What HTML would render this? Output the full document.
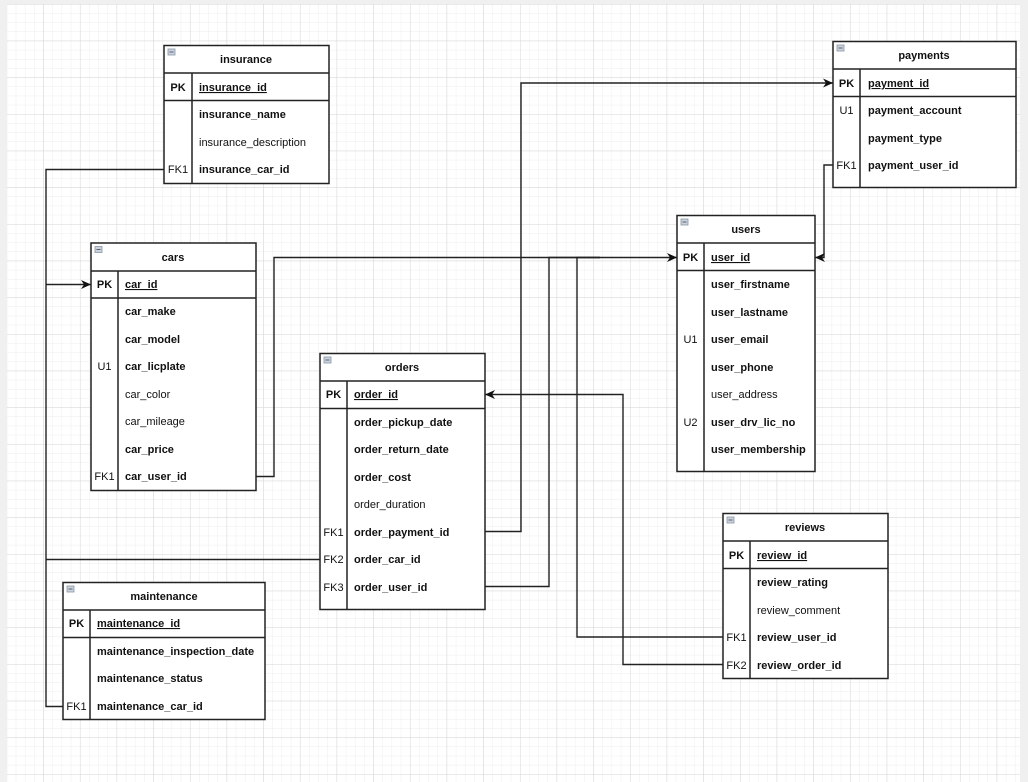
<!DOCTYPE html>
<html><head><meta charset="utf-8"><style>
html,body{margin:0;padding:0;background:#fff;}
svg{display:block;}
text{font-family:"Liberation Sans",Arial,sans-serif;font-size:11px;fill:#111;}
.b{font-weight:bold;}
.u{text-decoration:underline;}
.k{text-anchor:middle;}
.h{font-weight:bold;text-anchor:middle;}
.t{fill:#fff;stroke:#222;stroke-width:1.5;}
.l{stroke:#222;stroke-width:1.5;fill:none;}
.c{stroke:#222;stroke-width:1.4;fill:none;}
</style></head><body>
<svg width="1028" height="782" viewBox="0 0 1028 782" xmlns="http://www.w3.org/2000/svg">
<defs>
<pattern id="mn" x="6.6" y="4" width="9.167" height="9.167" patternUnits="userSpaceOnUse">
<path d="M0 0H9.167M0 0V9.167" stroke="#eeeeee" stroke-width="1" fill="none"/>
</pattern>
<pattern id="mj" x="6.6" y="4" width="36.67" height="36.67" patternUnits="userSpaceOnUse">
<path d="M0 0H36.67M0 0V36.67" stroke="#d6d6d6" stroke-width="1" fill="none"/>
</pattern>
<marker id="ar" markerWidth="12" markerHeight="12" refX="10" refY="6" orient="auto" markerUnits="userSpaceOnUse">
<path d="M0,1.5 L10,6 L0,10.5 L3,6 Z" fill="#111"/>
</marker>
</defs>
<rect x="0" y="0" width="1028" height="782" fill="#f0f0f0"/>
<rect x="7" y="4" width="1013" height="778" fill="#fff"/>
<rect x="7" y="4" width="1013" height="778" fill="url(#mn)"/>
<rect x="7" y="4" width="1013" height="778" fill="url(#mj)"/>

<!-- connectors -->
<path class="c" d="M164 169.5H46V706.5H63"/>
<path class="c" d="M46 284.5H91" marker-end="url(#ar)"/>
<path class="c" d="M320 559.5H46"/>
<path class="c" d="M256 476.5H274V257.5H677" marker-end="url(#ar)"/>
<path class="c" d="M485 531.5H521V83H833" marker-end="url(#ar)"/>
<path class="c" d="M485 586.5H549V257.5H600"/>
<path class="c" d="M723 637H577V257.5H600"/>
<path class="c" d="M723 664.5H623V394.5H485" marker-end="url(#ar)"/>
<path class="c" d="M833 165H824V257.5H815" marker-end="url(#ar)"/>

<!-- insurance -->
<g>
<rect class="t" x="164" y="45.5" width="165" height="138"/>
<path class="l" d="M164 73H329M164 100.5H329M192 73V183.5"/>
<rect x="168" y="49" width="7" height="6" fill="#c9d3dd" stroke="#8a97a5" stroke-width=".8"/><path d="M169.5 52H173.5" stroke="#445" stroke-width=".8"/>
<text class="h" x="246" y="63">insurance</text>
<text class="k b" x="178" y="91">PK</text><text class="b u" x="199" y="91">insurance_id</text>
<text class="b" x="199" y="118">insurance_name</text>
<text x="199" y="146">insurance_description</text>
<text class="k" x="178" y="173">FK1</text><text class="b" x="199" y="173">insurance_car_id</text>
</g>

<!-- cars -->
<g>
<rect class="t" x="91" y="243" width="165" height="247.5"/>
<path class="l" d="M91 271H256M91 298H256M118 271V490.5"/>
<rect x="95" y="246.5" width="7" height="6" fill="#c9d3dd" stroke="#8a97a5" stroke-width=".8"/><path d="M96.5 249.5H100.5" stroke="#445" stroke-width=".8"/>
<text class="h" x="173" y="261">cars</text>
<text class="k b" x="104.5" y="288">PK</text><text class="b u" x="125" y="288">car_id</text>
<text class="b" x="125" y="315">car_make</text>
<text class="b" x="125" y="343">car_model</text>
<text class="k" x="104.5" y="370">U1</text><text class="b" x="125" y="370">car_licplate</text>
<text x="125" y="398">car_color</text>
<text x="125" y="425">car_mileage</text>
<text class="b" x="125" y="453">car_price</text>
<text class="k" x="104.5" y="480">FK1</text><text class="b" x="125" y="480">car_user_id</text>
</g>

<!-- payments -->
<g>
<rect class="t" x="833" y="41.5" width="183" height="146"/>
<path class="l" d="M833 69H1016M833 96.5H1016M860 69V187.5"/>
<rect x="837" y="45" width="7" height="6" fill="#c9d3dd" stroke="#8a97a5" stroke-width=".8"/><path d="M838.5 48H842.5" stroke="#445" stroke-width=".8"/>
<text class="h" x="924" y="59">payments</text>
<text class="k b" x="846.5" y="87">PK</text><text class="b u" x="868" y="87">payment_id</text>
<text class="k" x="846.5" y="114">U1</text><text class="b" x="868" y="114">payment_account</text>
<text class="b" x="868" y="142">payment_type</text>
<text class="k" x="846.5" y="169">FK1</text><text class="b" x="868" y="169">payment_user_id</text>
</g>

<!-- users -->
<g>
<rect class="t" x="677" y="215.5" width="138" height="256"/>
<path class="l" d="M677 243H815M677 270.5H815M704 243V471.5"/>
<rect x="681" y="219" width="7" height="6" fill="#c9d3dd" stroke="#8a97a5" stroke-width=".8"/><path d="M682.5 222H686.5" stroke="#445" stroke-width=".8"/>
<text class="h" x="746" y="233">users</text>
<text class="k b" x="690.5" y="261">PK</text><text class="b u" x="711" y="261">user_id</text>
<text class="b" x="711" y="288">user_firstname</text>
<text class="b" x="711" y="316">user_lastname</text>
<text class="k" x="690.5" y="343">U1</text><text class="b" x="711" y="343">user_email</text>
<text class="b" x="711" y="371">user_phone</text>
<text x="711" y="398">user_address</text>
<text class="k" x="690.5" y="426">U2</text><text class="b" x="711" y="426">user_drv_lic_no</text>
<text class="b" x="711" y="453">user_membership</text>
</g>

<!-- orders -->
<g>
<rect class="t" x="320" y="353.5" width="165" height="256"/>
<path class="l" d="M320 381H485M320 408.5H485M347 381V609.5"/>
<rect x="324" y="357" width="7" height="6" fill="#c9d3dd" stroke="#8a97a5" stroke-width=".8"/><path d="M325.5 360H329.5" stroke="#445" stroke-width=".8"/>
<text class="h" x="402" y="371">orders</text>
<text class="k b" x="333.5" y="398">PK</text><text class="b u" x="354" y="398">order_id</text>
<text class="b" x="354" y="426">order_pickup_date</text>
<text class="b" x="354" y="453">order_return_date</text>
<text class="b" x="354" y="481">order_cost</text>
<text x="354" y="508">order_duration</text>
<text class="k" x="333.5" y="536">FK1</text><text class="b" x="354" y="536">order_payment_id</text>
<text class="k" x="333.5" y="563">FK2</text><text class="b" x="354" y="563">order_car_id</text>
<text class="k" x="333.5" y="591">FK3</text><text class="b" x="354" y="591">order_user_id</text>
</g>

<!-- reviews -->
<g>
<rect class="t" x="723" y="513.5" width="165" height="165"/>
<path class="l" d="M723 541H888M723 568.5H888M750 541V678.5"/>
<rect x="727" y="517" width="7" height="6" fill="#c9d3dd" stroke="#8a97a5" stroke-width=".8"/><path d="M728.5 520H732.5" stroke="#445" stroke-width=".8"/>
<text class="h" x="805" y="531">reviews</text>
<text class="k b" x="736.5" y="559">PK</text><text class="b u" x="757" y="559">review_id</text>
<text class="b" x="757" y="586">review_rating</text>
<text x="757" y="614">review_comment</text>
<text class="k" x="736.5" y="641">FK1</text><text class="b" x="757" y="641">review_user_id</text>
<text class="k" x="736.5" y="669">FK2</text><text class="b" x="757" y="669">review_order_id</text>
</g>

<!-- maintenance -->
<g>
<rect class="t" x="63" y="582.5" width="202" height="137"/>
<path class="l" d="M63 610H265M63 637.5H265M90 610V719.5"/>
<rect x="67" y="586" width="7" height="6" fill="#c9d3dd" stroke="#8a97a5" stroke-width=".8"/><path d="M68.5 589H72.5" stroke="#445" stroke-width=".8"/>
<text class="h" x="164" y="600">maintenance</text>
<text class="k b" x="76.5" y="627">PK</text><text class="b u" x="97" y="627">maintenance_id</text>
<text class="b" x="97" y="655">maintenance_inspection_date</text>
<text class="b" x="97" y="682">maintenance_status</text>
<text class="k" x="76.5" y="710">FK1</text><text class="b" x="97" y="710">maintenance_car_id</text>
</g>
</svg>
</body></html>
